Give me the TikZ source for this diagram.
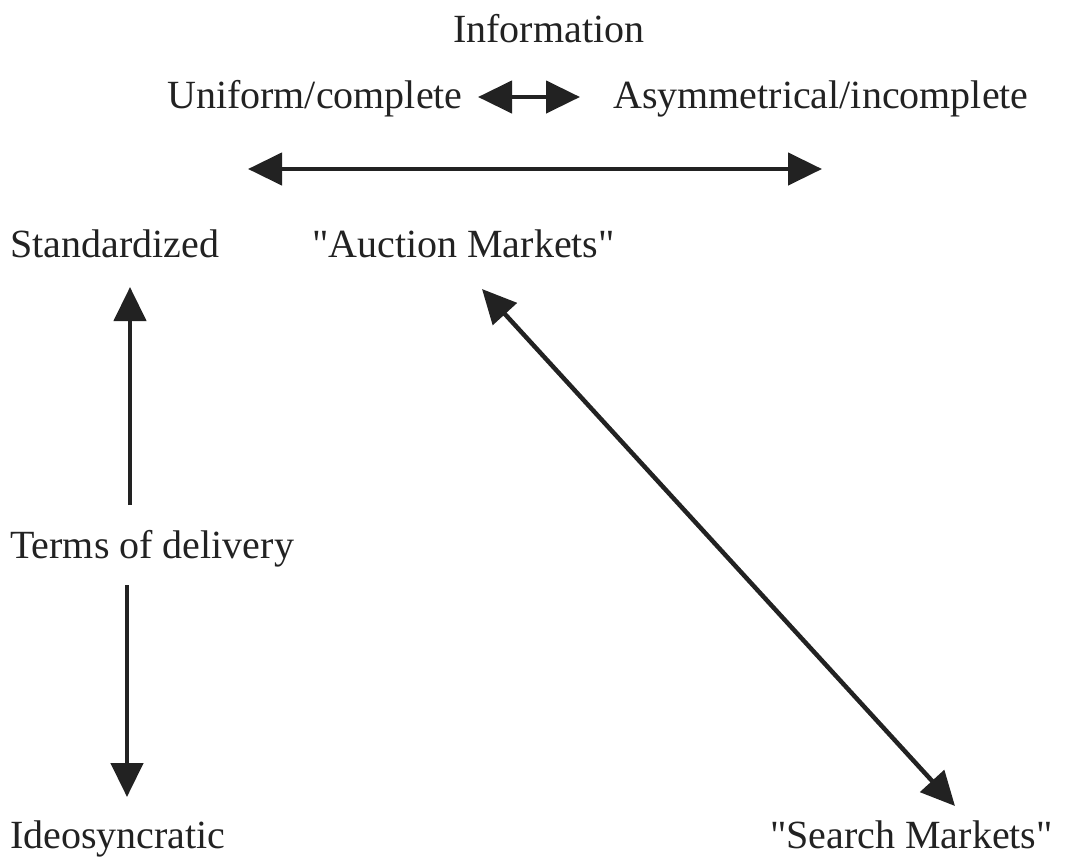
\documentclass[tikz,border=0pt]{standalone}
\usepackage{fontspec}
\setmainfont{Liberation Serif}[Ligatures=TeXOff]
\usetikzlibrary{arrows.meta}
\definecolor{ink}{HTML}{222222}
\tikzset{
  lbl/.style={anchor=base west, inner sep=0pt, text=ink, font=\fontsize{40}{48}\selectfont},
  dbl/.style={draw=ink, line width=4.5pt, {Triangle[length=34pt,width=32pt]}-{Triangle[length=34pt,width=32pt]}},
  sgl/.style={draw=ink, line width=4.5pt, -{Triangle[length=34pt,width=32pt]}},
}
\begin{document}
\begin{tikzpicture}[x=1pt,y=-1pt]
\useasboundingbox (0,0) rectangle (1079,860);
% headings
\node[lbl] (info) at (453,42) {Information};
\node[lbl] (unif) at (167,108) {Uniform/complete};
\node[lbl] (asym) at (613,108) {Asymmetrical/incomplete};
% row labels
\node[lbl] (std)  at (10,257) {Standardized};
\node[lbl] (auc)  at (312,257) {"Auction Markets"};
\node[lbl] (terms) at (10,558) {Terms of delivery};
\node[lbl] (ideo) at (10,848) {Ideosyncratic};
\node[lbl] (srch) at (770,848) {"Search Markets"};
% connector end points
\coordinate (sa) at (478,97);
\coordinate (sb) at (580,97);
\coordinate (la) at (248,169);
\coordinate (lb) at (822,169);
\coordinate (up0) at (130,505);
\coordinate (up1) at (130,287);
\coordinate (dn0) at (127,585);
\coordinate (dn1) at (127,797);
\coordinate (da) at (482,289);
\coordinate (db) at (955,806);
% arrows
\draw[dbl] (sa) -- (sb);
\draw[dbl] (la) -- (lb);
\draw[sgl] (up0) -- (up1);
\draw[sgl] (dn0) -- (dn1);
\draw[dbl] (da) -- (db);
\end{tikzpicture}
\end{document}
